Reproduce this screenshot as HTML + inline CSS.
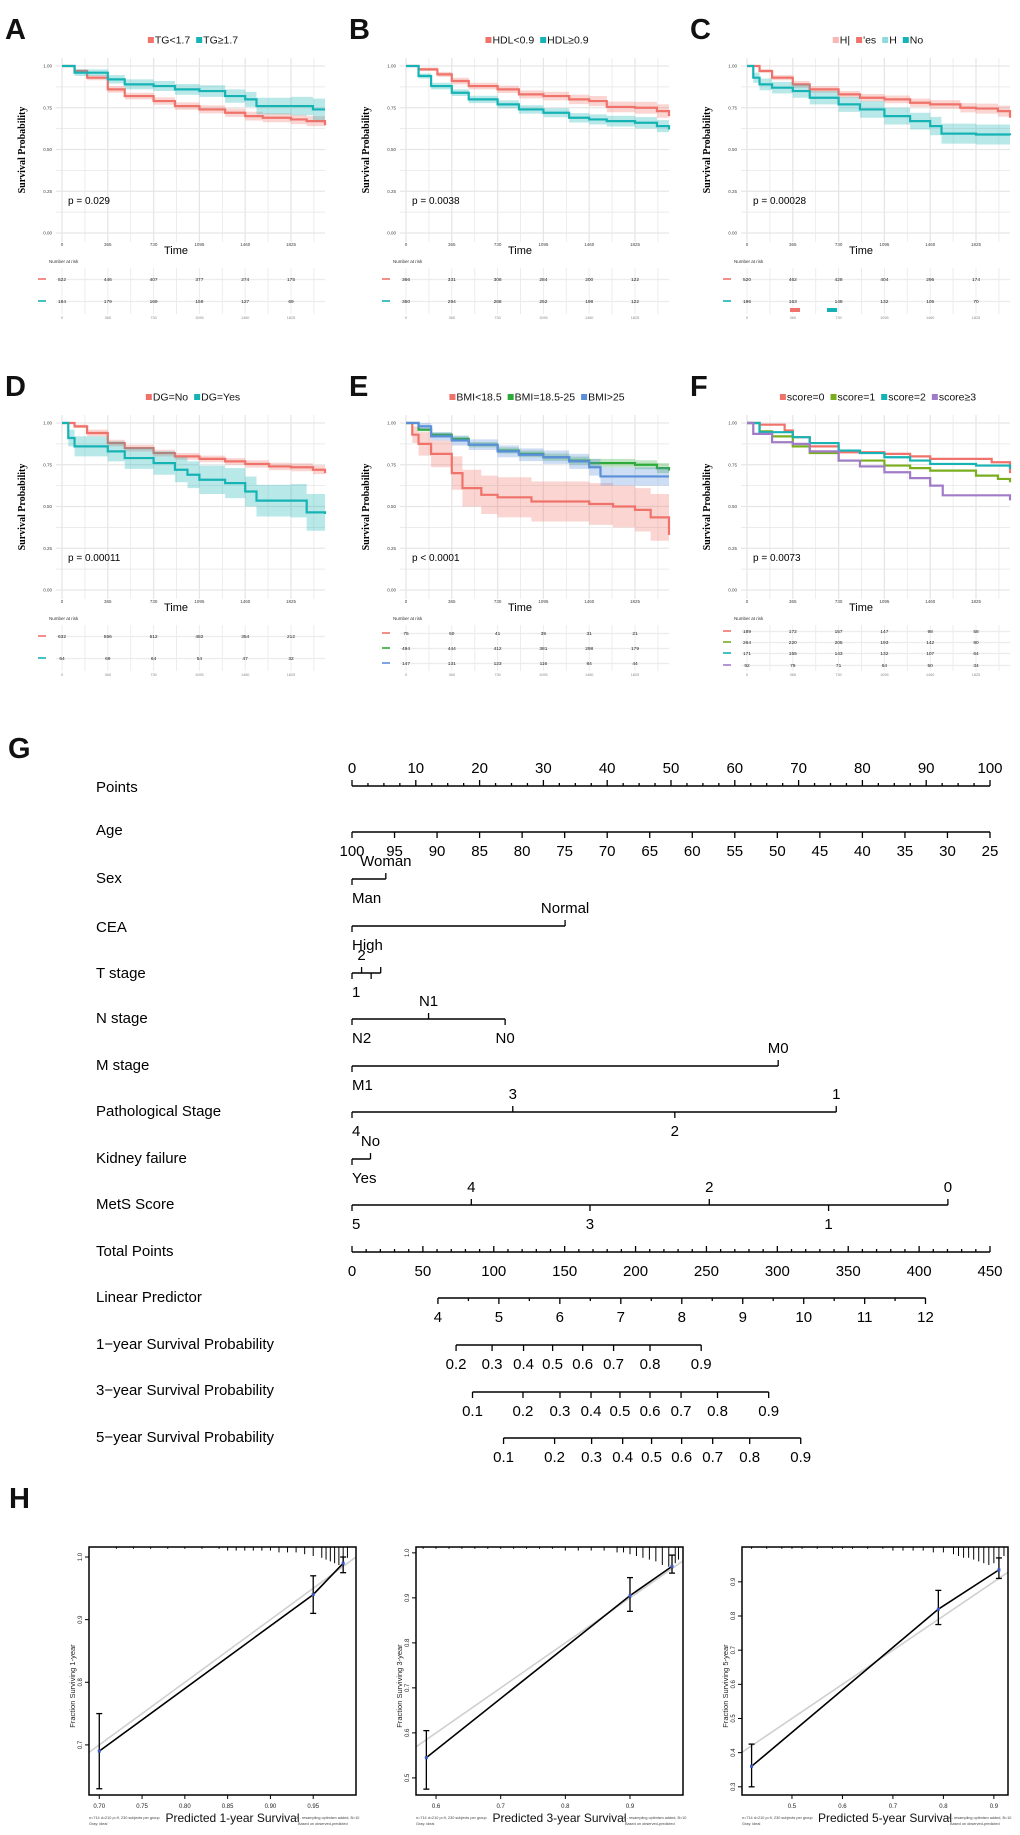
<!DOCTYPE html>
<html><head><meta charset="utf-8">
<style>
html,body{margin:0;padding:0;background:#fff;}
svg{display:block;font-family:"Liberation Sans",Arial,sans-serif;}
</style></head>
<body>
<svg id="fig" width="1020" height="1835" viewBox="0 0 1020 1835" xmlns="http://www.w3.org/2000/svg"></svg>
<script>
// ---------------- KM data ----------------
const kmTimeTicks=[0,365,730,1095,1460,1825];
const kmYTicks=[0,0.25,0.5,0.75,1];
const kmYTickLabels=['0.00','0.25','0.50','0.75','1.00'];
const tA1=[0,100,200,365,500,730,900,1095,1300,1460,1600,1825,1950,2096];
const sA1=[1,.97,.93,.86,.82,.79,.76,.74,.72,.70,.69,.68,.67,.645];
const cA1=[0,.01,.015,.02,.02,.022,.022,.024,.025,.026,.027,.028,.03,.035];
const tA2=[0,100,365,500,730,900,1095,1300,1460,1550,1825,2000,2096];
const sA2=[1,.96,.92,.89,.88,.86,.85,.82,.80,.76,.76,.74,.74];
const cA2=[0,.02,.025,.03,.03,.032,.035,.04,.045,.05,.055,.065,.07];
const tB1=[0,100,250,365,500,730,900,1095,1300,1460,1600,1825,2000,2096];
const sB1=[1,.98,.95,.91,.88,.86,.83,.82,.80,.79,.755,.75,.73,.70];
const cB1=[0,.01,.015,.02,.02,.022,.024,.026,.028,.03,.032,.035,.04,.045];
const tB2=[0,100,200,365,500,730,900,1095,1300,1460,1600,1825,2000,2096];
const sB2=[1,.94,.88,.84,.80,.77,.74,.72,.69,.68,.67,.66,.64,.62];
const cB2=[0,.015,.02,.02,.022,.024,.025,.027,.028,.03,.032,.034,.036,.04];
const tC1=[0,100,200,365,500,730,900,1095,1300,1460,1700,1825,2000,2096];
const sC1=[1,.97,.93,.89,.86,.83,.81,.80,.78,.77,.75,.745,.73,.69];
const cC1=[0,.01,.015,.02,.02,.02,.022,.023,.025,.026,.028,.03,.033,.04];
const tC2=[0,50,100,200,365,500,730,900,1095,1300,1460,1550,1825,2096];
const sC2=[1,.93,.89,.87,.85,.81,.77,.74,.70,.67,.64,.595,.59,.585];
const cC2=[0,.03,.035,.035,.04,.04,.045,.05,.05,.05,.055,.06,.06,.065];
const tD1=[0,100,200,365,500,730,900,1095,1300,1460,1650,1825,2000,2096];
const sD1=[1,.98,.94,.88,.85,.82,.80,.785,.77,.755,.74,.735,.72,.70];
const cD1=[0,.01,.02,.02,.02,.02,.02,.02,.02,.022,.022,.024,.026,.03];
const tD2=[0,50,100,365,500,730,900,1000,1095,1300,1460,1550,1825,1950,2096];
const sD2=[1,.91,.86,.83,.79,.76,.72,.69,.66,.64,.59,.535,.535,.465,.455];
const cD2=[0,.05,.06,.06,.065,.07,.075,.08,.085,.09,.09,.095,.1,.11,.11];
const tE1=[0,50,100,200,365,450,600,730,1000,1460,1650,1825,1950,2096];
const sE1=[1,.93,.875,.815,.70,.61,.57,.555,.53,.515,.50,.48,.435,.33];
const cE1=[0,.05,.07,.08,.1,.11,.115,.12,.12,.125,.125,.13,.14,.15];
const tE2=[0,100,200,365,500,730,900,1095,1300,1460,1825,2000,2096];
const sE2=[1,.96,.93,.905,.87,.835,.815,.795,.775,.76,.75,.73,.715];
const cE2=[0,.01,.012,.015,.016,.018,.02,.022,.024,.025,.027,.03,.032];
const tE3=[0,100,200,365,500,730,900,1095,1300,1460,1550,2096];
const sE3=[1,.98,.92,.895,.87,.83,.81,.795,.77,.735,.68,.68];
const cE3=[0,.02,.025,.03,.032,.035,.038,.04,.045,.05,.055,.06];
const tF1=[0,100,300,365,500,730,1095,1300,1460,1825,1950,2096];
const sF1=[1,.99,.955,.915,.86,.825,.815,.80,.785,.785,.765,.70];
const tF2=[0,100,200,365,500,730,1095,1300,1460,1825,2000,2096];
const sF2=[1,.95,.92,.86,.82,.775,.745,.73,.715,.685,.665,.645];
const tF3=[0,100,365,500,730,900,1095,1300,1460,1825,2096];
const sF3=[1,.945,.915,.88,.835,.82,.795,.775,.755,.745,.725];
const tF4=[0,50,200,365,500,730,900,1095,1300,1460,1560,1825,2096];
const sF4=[1,.935,.885,.875,.83,.775,.74,.705,.67,.625,.567,.567,.537];
const riskA=[[522,446,407,377,274,175],[184,179,169,159,127,69]];
const riskB=[[366,331,308,284,200,122],[350,294,268,252,198,122]];
const riskC=[[520,462,428,404,296,174],[196,163,148,132,105,70]];
const riskD=[[632,556,512,482,354,212],[64,69,64,54,47,32]];
const riskE=[[75,50,41,39,31,21],[494,444,412,381,298,179],[147,131,123,116,84,44]];
const riskF=[[189,172,157,147,98,58],[264,220,205,193,142,90],[171,155,143,132,107,64],[92,79,71,64,50,34]];
const legA=['TG<1.7','TG≥1.7'];
const legB=['HDL<0.9','HDL≥0.9'];
const legC=['H|',"'es",'H','No'];
const legD=['DG=No','DG=Yes'];
const legE=['BMI<18.5','BMI=18.5-25','BMI>25'];
const legF=['score=0','score=1','score=2','score≥3'];
const pvals=['p = 0.029','p = 0.0038','p = 0.00028','p = 0.00011','p < 0.0001','p = 0.0073'];

// ---------------- Nomogram data ----------------
const nomoLabels=['Points','Age','Sex','CEA','T stage','N stage','M stage','Pathological Stage','Kidney failure','MetS Score','Total Points','Linear Predictor','1\u2212year Survival Probability','3\u2212year Survival Probability','5\u2212year Survival Probability'];
const pointsTicks=[0,10,20,30,40,50,60,70,80,90,100];
const ageTicks=[100,95,90,85,80,75,70,65,60,55,50,45,40,35,30,25];
const sexLabels=['Man','Woman'], sexPts=[0,5.3];
const ceaLabels=['High','Normal'], ceaPts=[0,33.4];
const tLabels=['1','2','',''], tPts=[0,1.5,3,4.5];
const nLabels=['N2','N1','N0'], nPts=[0,12,24];
const mLabels=['M1','M0'], mPts=[0,66.8];
const pathLabels=['4','3','2','1'], pathPts=[0,25.2,50.6,75.9];
const kidLabels=['Yes','No'], kidPts=[0,2.9];
const metsLabels=['5','4','3','2','1','0'], metsPts=[0,18.7,37.3,56.0,74.7,93.4];
const totalTicks=[0,50,100,150,200,250,300,350,400,450];
const lpTicks=[4,5,6,7,8,9,10,11,12];
const lpTotal=[60.6,103.6,146.6,189.6,232.6,275.6,318.6,361.6,404.5];
const s1Labels=['0.2','0.3','0.4','0.5','0.6','0.7','0.8','0.9'];
const s1Total=[73.4,98.8,121.0,141.5,162.7,184.5,210.2,246.3];
const s3Labels=['0.1','0.2','0.3','0.4','0.5','0.6','0.7','0.8','0.9'];
const s3Total=[85.0,120.6,146.7,168.6,189.0,210.2,232.1,257.8,293.9];
const s5Labels=['0.1','0.2','0.3','0.4','0.5','0.6','0.7','0.8','0.9'];
const s5Total=[106.9,142.9,169.0,190.9,211.3,232.5,254.4,280.5,316.5];

// ---------------- Calibration data ----------------
const cal1X=[0.70,0.95,0.985], cal1Y=[0.69,0.94,0.99], cal1Lo=[0.63,0.91,0.975], cal1Hi=[0.75,0.97,1.0];
const cal2X=[0.585,0.90,0.965], cal2Y=[0.545,0.905,0.97], cal2Lo=[0.475,0.87,0.955], cal2Hi=[0.605,0.945,0.995];
const cal3X=[0.42,0.79,0.91], cal3Y=[0.36,0.82,0.935], cal3Lo=[0.30,0.775,0.91], cal3Hi=[0.425,0.875,0.97];
const rug1X=[.72,.74,.76,.78,.80,.82,.84,.85,.86,.87,.88,.89,.90,.91,.92,.93,.94,.95,.96,.965,.97,.975,.98,.985,.99];
const rug1N=[1,1,1,1,1,1,1,2,2,2,2,2,2,3,3,3,4,5,6,7,8,9,10,9,6];
const rug2X=[.58,.60,.62,.64,.66,.68,.70,.72,.74,.76,.78,.80,.82,.84,.86,.88,.89,.90,.91,.92,.93,.94,.95,.96,.97,.975];
const rug2N=[1,1,1,1,1,1,1,1,1,1,1,2,2,2,2,3,3,4,5,6,7,8,10,11,9,7];
const rug3X=[.42,.45,.48,.50,.52,.55,.58,.60,.62,.65,.68,.70,.72,.74,.76,.78,.80,.82,.83,.84,.85,.86,.87,.88,.89,.90,.91,.92];
const rug3N=[1,1,1,1,1,1,1,1,1,1,1,2,2,2,2,3,3,4,5,6,6,7,8,9,10,9,7,5];

const NS='http://www.w3.org/2000/svg';
const svg=document.getElementById('fig');
function mk(tag,attrs,parent){
  const el=document.createElementNS(NS,tag);
  for(const k in attrs) el.setAttribute(k,attrs[k]);
  (parent||svg).appendChild(el);
  return el;
}
function nm(el,name,inter){
  
  
  return el;
}
function txt(x,y,s,size,opts,parent){
  opts=opts||{};
  const el=mk('text',{x:x,y:y,'font-size':size,fill:opts.fill||'#000','text-anchor':opts.anchor||'start'},parent);
  if(opts.weight) el.setAttribute('font-weight',opts.weight);
  if(opts.family) el.setAttribute('font-family',opts.family);
  if(opts.transform) el.setAttribute('transform',opts.transform);
  el.textContent=s;
  return el;
}
const RED='#F0736B', TEAL='#16B3B5', GREEN='#2EAA3A', BLUE='#5B8FD9', OLIVE='#7AAE1E', PURPLE='#A07CC8';

// ---------------- KM panels ----------------
const panels=[
 {L:'A',ox:0,oy:0,series:[[tA1,sA1,cA1,RED],[tA2,sA2,cA2,TEAL]],risk:riskA,leg:legA,legC:[RED,TEAL],p:0},
 {L:'B',ox:344,oy:0,series:[[tB1,sB1,cB1,RED],[tB2,sB2,cB2,TEAL]],risk:riskB,leg:legB,legC:[RED,TEAL],p:1},
 {L:'C',ox:685,oy:0,series:[[tC1,sC1,cC1,RED],[tC2,sC2,cC2,TEAL]],risk:riskC,leg:legC,legC:['#F7B7B3',RED,'#8FDADB',TEAL],p:2},
 {L:'D',ox:0,oy:357,series:[[tD1,sD1,cD1,RED],[tD2,sD2,cD2,TEAL]],risk:riskD,leg:legD,legC:[RED,TEAL],p:3},
 {L:'E',ox:344,oy:357,series:[[tE1,sE1,cE1,RED],[tE2,sE2,cE2,GREEN],[tE3,sE3,cE3,BLUE]],risk:riskE,leg:legE,legC:[RED,GREEN,BLUE],p:4},
 {L:'F',ox:685,oy:357,series:[[tF1,sF1,null,RED],[tF2,sF2,null,OLIVE],[tF3,sF3,null,TEAL],[tF4,sF4,null,PURPLE]],risk:riskF,leg:legF,legC:[RED,OLIVE,TEAL,PURPLE],p:5}
];
const TMAX=2096;
panels.forEach(P=>{
  const g=nm(mk('g',{}),'km-panel-'+P.L.toLowerCase());
  const ox=P.ox, oy=P.oy;
  const X=t=>ox+62+t*229/1825;
  const Y=s=>oy+66+(1-s)*167;
  nm(txt(ox+5,oy+39,P.L,29,{weight:'bold',fill:'#111'},g),'panel-label');
  // grid
  const grid=nm(mk('g',{stroke:'#e6e6e6','stroke-width':1},g),'grid');
  for(let t=0;t<=TMAX;t+=182.5){
    mk('line',{x1:X(t),x2:X(t),y1:oy+58,y2:oy+242,'stroke-width':(t%365===0)?1.3:0.7},grid);
  }
  for(let s=0;s<=1.0001;s+=0.125){
    mk('line',{x1:ox+56,x2:ox+325,y1:Y(s),y2:Y(s),'stroke-width':(Math.round(s*8)%2===0)?1.3:0.7},grid);
  }
  kmYTicks.forEach((v,i)=>{
    nm(txt(ox+52,Y(v)+1.5,kmYTickLabels[i],4.5,{anchor:'end',fill:'#444'},g),'y-tick-label');
  });
  kmTimeTicks.forEach(t=>{
    nm(txt(X(t),oy+246,String(t),4.5,{anchor:'middle',fill:'#444'},g),'x-tick-label');
  });
  nm(txt(ox+25,oy+150,'Survival Probability',10,{anchor:'middle',weight:'bold',family:'"Liberation Serif",serif',transform:'rotate(-90 '+(ox+25)+' '+(oy+150)+')'},g),'y-axis-title');
  nm(txt(ox+176,oy+254,'Time',11,{anchor:'middle'},g),'x-axis-title');
  nm(txt(ox+68,oy+204,pvals[P.p],10,{},g),'p-value');
  // series
  P.series.forEach((S,si)=>{
    const [t,s,c,col]=S;
    const stepPts=(vals)=>{
      const pts=[[X(t[0]),Y(vals[0])]];
      for(let i=1;i<t.length;i++){pts.push([X(t[i]),Y(vals[i-1])]);pts.push([X(t[i]),Y(vals[i])]);}
      return pts;
    };
    if(c){
      const hi=s.map((v,i)=>Math.min(1,v+c[i])), lo=s.map((v,i)=>v-c[i]);
      const up=stepPts(hi), dn=stepPts(lo).reverse();
      const band=mk('polygon',{points:up.concat(dn).map(p=>p.join(',')).join(' '),fill:col,'fill-opacity':0.3,stroke:'none'},g);
      nm(band,'ci-band-'+(si+1));
    }
    const line=mk('polyline',{points:stepPts(s).map(p=>p.join(',')).join(' '),fill:'none',stroke:col,'stroke-width':2.2},g);
    nm(line,'survival-curve-'+(si+1));
  });
  // legend
  const lg=nm(mk('g',{},g),'legend');
  let lx=0; const items=[];
  P.leg.forEach((s,i)=>{
    const r=mk('rect',{x:lx,y:oy+37,width:6,height:6,fill:P.legC[i]},lg);
    nm(r,'legend-swatch');
    const tt=nm(txt(lx+7,oy+43.5,s,10.5,{fill:'#111'},lg),'legend-entry');
    items.push(r,tt);
    lx+=7+tt.getComputedTextLength()+6;
  });
  const w=lx-6; const sh=ox+193-w/2;
  lg.setAttribute('transform','translate('+sh+',0)');
  // risk table
  const n=P.risk.length;
  const rowY= n===2?[281,303]: n===3?[278,293,308]:[276,287,298,310];
  nm(txt(ox+49,oy+263,'Number at risk',4.5,{fill:'#333'},g),'risk-table-title');
  const rg=nm(mk('g',{stroke:'#ececec','stroke-width':1},g),'risk-grid');
  for(let t=0;t<=TMAX;t+=182.5){mk('line',{x1:X(t),x2:X(t),y1:oy+268,y2:oy+314},rg);}
  P.risk.forEach((row,ri)=>{
    const yy=oy+rowY[ri];
    mk('line',{x1:ox+56,x2:ox+325,y1:yy-1.5,y2:yy-1.5,'stroke-width':1.3},rg);
    nm(mk('line',{x1:ox+38,x2:ox+46,y1:yy-2,y2:yy-2,stroke:P.legC[n===4&&P.L==='C'?ri*2+1:(P.L==='C'?ri*2+1:ri)],'stroke-width':1.6},g),'risk-row-marker');
    row.forEach((v,i)=>{
      nm(txt(X(kmTimeTicks[i]),yy,String(v),4.8,{anchor:'middle',fill:'#222'},g),'risk-count');
    });
  });
  kmTimeTicks.forEach(t=>{
    nm(txt(X(t),oy+319,String(t),3.8,{anchor:'middle',fill:'#888'},g),'risk-x-tick-label');
  });
  if(P.L==='C'){
    nm(mk('rect',{x:ox+105,y:oy+308,width:10,height:4,fill:RED},g),'stray-legend-key');
    nm(mk('rect',{x:ox+142,y:oy+308,width:10,height:4,fill:TEAL},g),'stray-legend-key');
  }
});

// ---------------- Nomogram ----------------
const gN=nm(mk('g',{}),'nomogram');
nm(txt(8,758,'G',29,{weight:'bold',fill:'#111'},gN),'panel-label');
const PX=p=>352+p*6.38;
const TX=tp=>352+tp*638/450;
const rowC=[787,830,878,927,973,1018,1065,1111,1158,1204,1251,1297,1344,1390,1437];
nomoLabels.forEach((l,i)=>{
  nm(txt(96,rowC[i]+5,l,15,{},gN),'row-label-'+l.toLowerCase().replace(/[^a-z0-9]+/g,'-'));
});
function hline(x1,x2,y){nm(mk('line',{x1:x1,x2:x2,y1:y,y2:y,stroke:'#000','stroke-width':1.4},gN),'axis-line');}
function tick(x,y,dir,len){nm(mk('line',{x1:x,x2:x,y1:y,y2:y+dir*len,stroke:'#000','stroke-width':1.3},gN),'axis-tick');}
// Points
{const y=786; hline(PX(0),PX(100),y);
 for(let p=0;p<=100;p+=2.5){tick(PX(p),y,-1,(p%10===0)?6:3);}
 pointsTicks.forEach(p=>nm(txt(PX(p),773,String(p),15,{anchor:'middle'},gN),'points-tick-label'));}
// Age
{const y=832; hline(PX(0),PX(100),y);
 ageTicks.forEach(a=>{const x=PX((100-a)/75*100);tick(x,y,1,6);nm(txt(x,856,String(a),15,{anchor:'middle'},gN),'age-tick-label');});}
// categorical rows
function catRow(labels,pts,y,name){
  hline(PX(Math.min(...pts)),PX(Math.max(...pts)),y);
  pts.forEach((p,i)=>{
    const up=i%2===1;
    tick(PX(p),y,up?-1:1,6);
    if(labels[i]) nm(txt(PX(p)-(i===0?0:0),up?y-13:y+24,labels[i],15,{anchor:i===0?'start':'middle'},gN),name+'-label');
  });
}
catRow(sexLabels,sexPts,879,'sex');
catRow(ceaLabels,ceaPts,926,'cea');
catRow(tLabels,tPts,973,'t-stage');
catRow(nLabels,nPts,1019,'n-stage');
catRow(mLabels,mPts,1066,'m-stage');
catRow(pathLabels,pathPts,1112,'pathological-stage');
catRow(kidLabels,kidPts,1159,'kidney-failure');
catRow(metsLabels,metsPts,1205,'mets-score');
// total points
{const y=1252; hline(TX(0),TX(450),y);
 for(let p=0;p<=450;p+=10){tick(TX(p),y,-1,(p%50===0)?6:3);}
 totalTicks.forEach(p=>nm(txt(TX(p),1276,String(p),15,{anchor:'middle'},gN),'total-points-tick-label'));}
// linear predictor
{const y=1298; hline(TX(lpTotal[0]),TX(lpTotal[lpTotal.length-1]),y);
 lpTotal.forEach((tp,i)=>{tick(TX(tp),y,1,6);nm(txt(TX(tp),1322,String(lpTicks[i]),15,{anchor:'middle'},gN),'linear-predictor-tick-label');
   if(i<lpTotal.length-1){tick(TX((tp+lpTotal[i+1])/2),y,1,3);}});}
function probRow(lbl,tot,y,name){
  hline(TX(tot[0]),TX(tot[tot.length-1]),y);
  tot.forEach((tp,i)=>{tick(TX(tp),y,1,6);nm(txt(TX(tp),y+24,lbl[i],15,{anchor:'middle'},gN),name+'-tick-label');});
}
probRow(s1Labels,s1Total,1345,'survival-1yr');
probRow(s3Labels,s3Total,1392,'survival-3yr');
probRow(s5Labels,s5Total,1438,'survival-5yr');

// ---------------- Calibration ----------------
nm(txt(9,1508,'H',29,{weight:'bold',fill:'#111'}),'panel-label');
const cals=[
 {k:1,x0:89,x1:356,dx:[0.688,1.0],dy:[0.62,1.016],xt:[0.70,0.75,0.80,0.85,0.90,0.95],xtl:['0.70','0.75','0.80','0.85','0.90','0.95'],yt:[0.7,0.8,0.9,1.0],ytl:['0.7','0.8','0.9','1.0'],X:cal1X,Y:cal1Y,Lo:cal1Lo,Hi:cal1Hi,rx:rug1X,rn:rug1N},
 {k:3,x0:416,x1:683,dx:[0.569,0.982],dy:[0.462,1.013],xt:[0.6,0.7,0.8,0.9],xtl:['0.6','0.7','0.8','0.9'],yt:[0.5,0.6,0.7,0.8,0.9,1.0],ytl:['0.5','0.6','0.7','0.8','0.9','1.0'],X:cal2X,Y:cal2Y,Lo:cal2Lo,Hi:cal2Hi,rx:rug2X,rn:rug2N},
 {k:5,x0:742,x1:1008,dx:[0.401,0.928],dy:[0.276,1.002],xt:[0.5,0.6,0.7,0.8,0.9],xtl:['0.5','0.6','0.7','0.8','0.9'],yt:[0.3,0.4,0.5,0.6,0.7,0.8,0.9],ytl:['0.3','0.4','0.5','0.6','0.7','0.8','0.9'],X:cal3X,Y:cal3Y,Lo:cal3Lo,Hi:cal3Hi,rx:rug3X,rn:rug3N}
];
const cy0=1547, cy1=1795;
cals.forEach(C=>{
  const g=nm(mk('g',{}),'calibration-plot-'+C.k+'yr');
  const X=v=>C.x0+(v-C.dx[0])/(C.dx[1]-C.dx[0])*(C.x1-C.x0);
  const Y=v=>cy1-(v-C.dy[0])/(C.dy[1]-C.dy[0])*(cy1-cy0);
  const cid='clip'+C.k;
  const cp=mk('clipPath',{id:cid},g); mk('rect',{x:C.x0,y:cy0,width:C.x1-C.x0,height:cy1-cy0},cp);
  const lo=Math.min(C.dx[0],C.dy[0]), hi=Math.max(C.dx[1],C.dy[1]);
  nm(mk('line',{x1:X(lo),y1:Y(lo),x2:X(hi),y2:Y(hi),stroke:'#d0d0d0','stroke-width':1.6,'clip-path':'url(#'+cid+')'},g),'ideal-line');
  C.rx.forEach((v,i)=>{nm(mk('line',{x1:X(v),x2:X(v),y1:cy0,y2:cy0+C.rn[i]*1.8,stroke:'#000','stroke-width':1},g),'rug-tick');});
  nm(mk('polyline',{points:C.X.map((v,i)=>X(v)+','+Y(C.Y[i])).join(' '),fill:'none',stroke:'#000','stroke-width':1.6},g),'calibration-line');
  C.X.forEach((v,i)=>{
    const x=X(v);
    nm(mk('line',{x1:x,x2:x,y1:Y(C.Lo[i]),y2:Y(C.Hi[i]),stroke:'#000','stroke-width':1.3},g),'error-bar');
    mk('line',{x1:x-3,x2:x+3,y1:Y(C.Lo[i]),y2:Y(C.Lo[i]),stroke:'#000','stroke-width':1.3},g);
    mk('line',{x1:x-3,x2:x+3,y1:Y(C.Hi[i]),y2:Y(C.Hi[i]),stroke:'#000','stroke-width':1.3},g);
    nm(mk('rect',{x:x-1.5,y:Y(C.Y[i])-1.5,width:3,height:3,fill:'#3a5bc7'},g),'calibration-point');
  });
  nm(mk('rect',{x:C.x0,y:cy0,width:C.x1-C.x0,height:cy1-cy0,fill:'none',stroke:'#000','stroke-width':1.5},g),'plot-frame');
  C.xt.forEach((v,i)=>{mk('line',{x1:X(v),x2:X(v),y1:cy1,y2:cy1+4,stroke:'#000'},g);
    nm(txt(X(v),1808,C.xtl[i],6,{anchor:'middle',fill:'#222'},g),'x-tick-label');});
  C.yt.forEach((v,i)=>{mk('line',{x1:C.x0,x2:C.x0-4,y1:Y(v),y2:Y(v),stroke:'#000'},g);
    nm(txt(C.x0-7,Y(v),C.ytl[i],6,{anchor:'middle',fill:'#222',transform:'rotate(-90 '+(C.x0-7)+' '+Y(v)+')'},g),'y-tick-label');});
  const ymid=(cy0+cy1)/2+15;
  nm(txt(C.x0-14,ymid,'Fraction Surviving '+C.k+'-year',7.5,{anchor:'middle',fill:'#222',transform:'rotate(-90 '+(C.x0-14)+' '+ymid+')'},g),'y-axis-title');
  nm(txt((C.x0+C.x1)/2+10,1822,'Predicted  '+C.k+'-year Survival',12,{anchor:'middle',fill:'#111'},g),'x-axis-title');
  nm(txt(C.x0,1819,'n=714 d=210 p=9, 230 subjects per group',3.8,{fill:'#444'},g),'footnote-left');
  nm(txt(C.x0,1825,'Gray: ideal',3.8,{fill:'#444'},g),'footnote-gray-ideal');
  nm(txt(C.x1-60,1819,'X - resampling optimism added, B=10',3.8,{fill:'#444'},g),'footnote-right');
  nm(txt(C.x1-58,1825,'Based on observed-predicted',3.8,{fill:'#444'},g),'footnote-based-on');
});
</script>
</body></html>
